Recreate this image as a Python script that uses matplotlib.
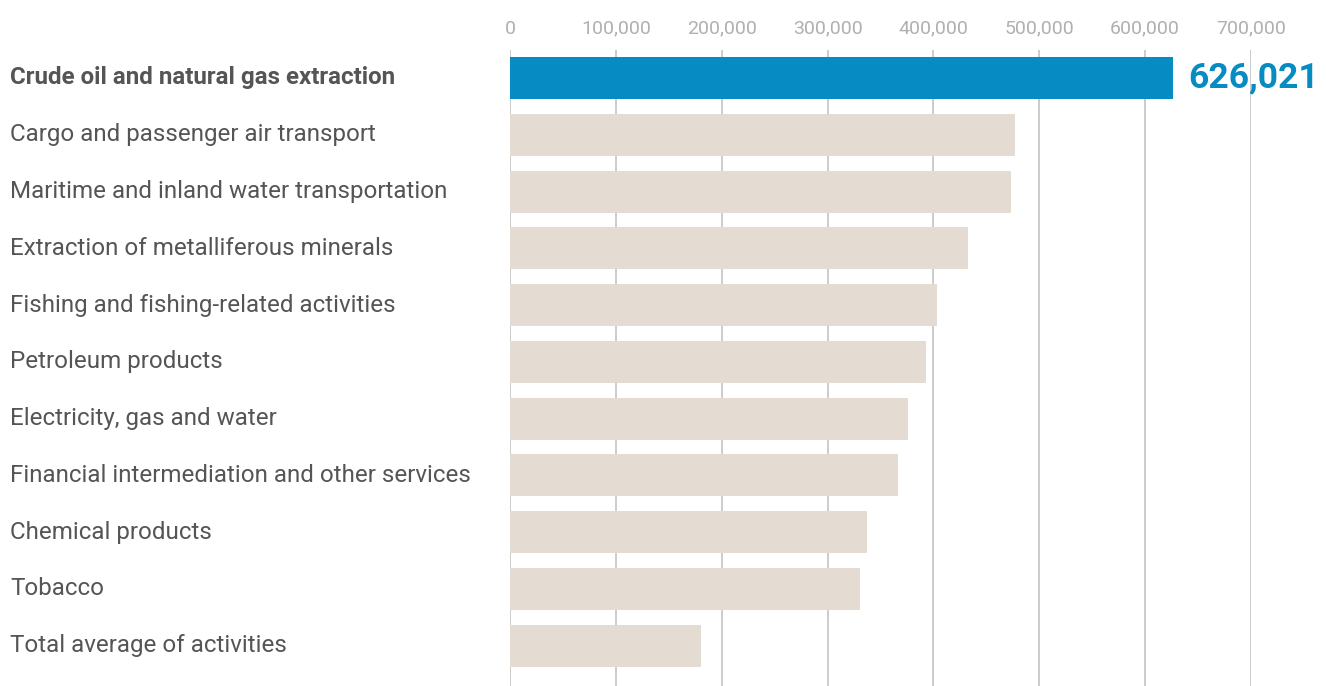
import matplotlib
matplotlib.use("Agg")
import matplotlib.pyplot as plt
from matplotlib.transforms import blended_transform_factory

categories = [
    "Crude oil and natural gas extraction",
    "Cargo and passenger air transport",
    "Maritime and inland water transportation",
    "Extraction of metalliferous minerals",
    "Fishing and fishing-related activities",
    "Petroleum products",
    "Electricity, gas and water",
    "Financial intermediation and other services",
    "Chemical products",
    "Tobacco",
    "Total average of activities",
]
values = [626021, 477000, 473000, 433000, 403000, 393000, 376000, 367000, 337000, 331000, 180000]
tick_values = [0, 100000, 200000, 300000, 400000, 500000, 600000, 700000]
tick_labels = ["0", "100,000", "200,000", "300,000", "400,000", "500,000", "600,000", "700,000"]
highlight_label = "626,021"

W, H = 1326, 686
fig = plt.figure(figsize=(W / 100, H / 100), dpi=100)
ax = fig.add_axes([510 / W, 0, (1251 - 510) / W, 1 - 50 / H])

blue = "#068bc2"
beige = "#e4dcd3"
colors = [blue] + [beige] * (len(values) - 1)
ypos = list(range(len(values)))
ax.barh(ypos, values, height=0.74, color=colors, zorder=3)

ax.set_xlim(0, 700000)
ax.set_ylim(10.71, -0.493)
ax.set_xticks(tick_values)
ax.set_xticklabels(tick_labels, family=["Roboto", "DejaVu Sans"], fontweight="normal",
                   fontsize=14, color="#b0b0b0")
ax.xaxis.tick_top()
ax.tick_params(axis="x", length=0, pad=9)
ax.grid(axis="x", color="#cccccc", linewidth=1.4, zorder=0)
ax.set_yticks([])
for s in ax.spines.values():
    s.set_visible(False)

trans = blended_transform_factory(fig.transFigure, ax.transData)
for i, c in enumerate(categories):
    ax.text(10 / W, i, c, transform=trans, ha="left", va="center",
            fontsize=17.4, family=["Roboto", "DejaVu Sans"], color="#555555",
            fontweight="bold" if i == 0 else "normal")

ax.text(values[0] + 15000, 0, highlight_label, ha="left", va="center",
        fontsize=25.5, fontweight="bold", family=["Roboto", "DejaVu Sans"],
        color=blue, clip_on=False, zorder=5)

fig.savefig("out.png", dpi=100)
